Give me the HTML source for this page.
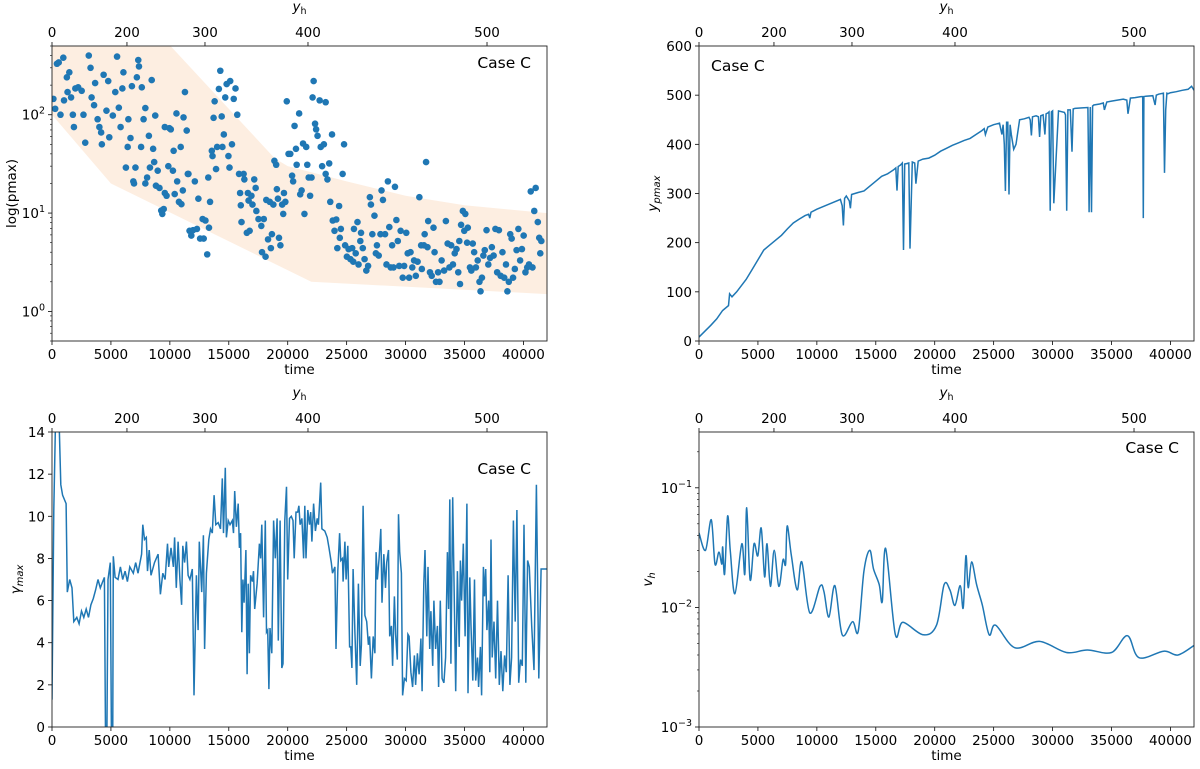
<!DOCTYPE html>
<html><head><meta charset="utf-8"><style>
body{margin:0;background:#fff}
svg{display:block;font-family:"DejaVu Sans","Liberation Sans",sans-serif}
</style></head><body>
<svg id="fig" width="1200" height="769" viewBox="0 0 1200 769" xmlns="http://www.w3.org/2000/svg"></svg>
<script>
// ---------- shared axis data ----------
const timeTicks=[0,5000,10000,15000,20000,25000,30000,35000,40000];
const yhTicks=[0,200,300,400,500];
const yhTickTime=[0,6360,12980,21720,36910];
// ---------- panel 1: log(pmax) scatter ----------
const pTime=[120,270,420,570,720,1020,960,1260,1470,1320,1620,1770,1860,1980,2220,2520,2670,2820,3120,3270,3360,3570,3660,3870,4020,4170,4230,4380,4620,4770,4860,5160,5370,5520,5670,5820,5970,6060,6270,6420,6480,6660,6780,6900,6960,7080,7200,7320,7380,7560,7620,7770,7920,7920,8070,8220,8310,8460,8580,8670,8760,8820,8970,9120,9270,9360,9480,9570,9720,9570,9960,9870,10080,10260,10320,10410,10560,10620,10770,10920,10980,11100,11160,11280,11430,11520,11580,11670,11820,11970,12120,12300,12420,12570,12780,12870,13020,13170,13260,13320,13410,13560,13620,13710,13800,13920,14010,14160,14280,14400,14460,14580,14700,14820,14970,15060,15120,15270,15420,15570,15720,15870,15960,16020,16080,16260,16320,16530,16620,16680,16770,16920,17010,17160,17280,17340,17520,17760,17820,17970,18120,18180,18330,18480,18570,18660,18780,18870,19020,19080,19170,19260,19380,19530,19620,19680,19800,19920,20070,20220,20370,20460,20580,20700,20760,20970,21060,21180,21300,21420,21570,21660,21780,21900,22020,22110,22200,22320,22410,22530,22710,22800,22920,23070,23220,23220,23370,23520,23610,23760,23820,23970,24120,24210,24360,24420,24510,24660,24780,24870,25020,25170,25320,25470,25560,25620,25770,25920,26010,26160,26220,26370,26520,26670,26820,26970,27060,27180,27360,27480,27570,27720,27870,27960,28080,28260,28380,28500,28620,28740,28860,28980,29100,29220,29340,29460,29580,29760,29880,30060,30180,30300,30420,30570,30720,30870,31020,31170,31320,31380,31560,31620,31740,31860,31920,32070,32220,32370,32460,32580,32760,32880,33060,33270,33420,33570,33720,33870,34020,34170,34320,34470,34560,34620,34710,34860,34980,35070,35220,35280,35460,35580,35700,35820,35970,36120,36270,36360,36480,36600,36720,36870,37020,37170,37320,37470,37620,37770,37920,38070,38220,38370,38520,38640,38760,38880,39000,39120,39270,39420,39570,39720,39870,40020,40170,40320,40470,40620,40770,40920,41040,41220,41340,41430,41520];
const pVal=[145,115,330,340,100,140,380,240,270,170,150,100,75,185,190,175,100,52,400,300,150,125,210,90,75,66,50,255,110,220,59,98,170,390,118,75,185,270,29,47,90,58,195,21,20,29,240,360,310,47,190,90,117,20,23,61,29,225,45,33,98,19,27,18,10.6,9.8,11,16,15,75,73,30,71,27,43,15.6,103,21,13,47,12.3,17,94,170,69,25,25,6.6,5.9,6.7,21,6.9,14,5.5,8.7,5.5,8.4,3.8,23,7.1,13,43,38,93,137,28,47,183,280,96,47,63,150,205,38,29,220,50,145,185,100,25,16,12,8.1,25,22,6.3,16,13.4,6.6,15,12.2,22,18,10.5,8.7,7.4,4.0,8.7,3.6,13.6,5.4,13,4.4,6.1,12.2,34,31,17.5,14,5.6,4.7,12.2,9.8,16,13,137,40,40,24,21,77,45,31,103,15.5,17,51,9.8,47,31,23,15,23,150,220,81,71,61,140,47,30,50,134,25,22,32,13,63,8.4,6.6,8.6,4.4,11.8,5.6,6.9,25,50,4.7,3.6,4.3,3.4,4.4,3.2,6.9,3.9,8.1,3.0,5.2,6.3,4.4,3.4,2.6,2.9,14.5,12.2,6.1,9.4,3.9,4.7,3.7,6.1,17,13.6,6.1,3.0,21,7.2,2.8,4.7,2.8,18.5,8.5,5.2,2.9,6.6,2.2,2.9,6.3,3.9,2.2,4.0,2.8,3.3,2.3,3.2,14.5,4.7,2.7,4.7,6.1,33,4.5,8.3,2.5,2.3,7.1,4.0,2.0,2.5,2.0,3.3,2.6,8.3,4.9,2.8,4.7,3.0,3.9,4.3,2.5,5.2,1.9,7.6,10.5,6.6,9.8,5.0,7.1,2.8,2.6,4.9,4.0,2.8,3.3,2.0,1.6,2.2,3.7,4.2,6.7,3.0,3.5,4.5,3.7,6.9,2.5,6.7,2.3,4.0,2.2,3.0,1.6,2.0,6.1,5.5,2.2,2.7,4.2,6.9,3.3,4.3,5.9,2.5,2.8,3.0,16.6,2.8,10.5,18,8.1,5.6,3.9,5.2];
const bandUpperT=[0,10060,18900,20000,25000,30000,35000,42000];
const bandUpperV=[500,500,36,30,21,15,12,10];
const bandLowerT=[0,5000,22000,42000];
const bandLowerV=[100,20,2.0,1.5];
// ---------- panel 2: y_pmax ----------
const ypT=[0,500,1000,1500,2000,2500,2600,2800,3200,4000,4500,5000,5500,6000,6500,7000,7500,8000,8500,9000,9300,9400,9500,10000,11000,12000,12150,12250,12350,12500,12750,12850,12950,13500,14000,14500,15000,15500,16000,16500,16700,16800,16900,17100,17250,17350,17450,17650,17800,17900,18100,18300,18400,18600,19000,19500,20000,20500,21000,21500,22000,22500,23000,23500,24000,24200,24300,24500,25000,25500,25700,25800,25900,26000,26100,26200,26300,26400,26500,26700,26900,27200,27600,28000,28100,28200,28300,28600,28800,28900,29000,29200,29350,29450,29600,29700,29800,29900,30000,30100,30500,31000,31100,31200,31300,31500,31650,31750,31900,32500,33000,33100,33200,33300,33400,33500,34000,34300,34400,34600,35000,35500,36000,36300,36400,36600,37000,37500,37650,37700,37750,37900,38500,38700,38800,39000,39400,39500,39600,39700,39800,40000,40500,41000,41500,41800,42000];
const ypV=[8,20,32,45,62,72,96,90,100,125,145,165,185,195,205,215,228,240,248,255,258,250,262,268,278,288,275,235,290,295,285,270,298,302,305,315,325,335,340,348,352,306,355,358,362,185,360,361,362,188,364,362,320,366,370,372,378,386,392,398,403,408,412,420,428,432,420,435,440,443,420,440,400,305,445,445,298,440,420,390,400,450,452,455,450,418,456,458,456,415,458,460,420,462,464,466,265,466,468,280,468,465,460,265,470,470,385,472,473,474,475,262,476,262,478,480,482,484,470,486,488,490,492,490,462,494,495,497,497,250,497,498,499,480,500,502,504,342,470,504,503,505,507,510,512,518,510];
// ---------- panel 3: gamma_max ----------
const gT=[0,150,300,600,750,900,1200,1300,1500,1700,1850,2100,2300,2500,2700,2900,3100,3300,3500,3700,3900,4100,4300,4450,4550,4650,4750,4950,5050,5150,5200,5350,5600,5800,6000,6200,6400,6600,6900,7100,7300,7600,7700,7850,8000,8100,8250,8400,8700,9000,9200,9400,9600,9800,9900,10100,10300,10400,10550,10700,10850,11000,11100,11250,11400,11550,11700,11900,12050,12250,12400,12500,12700,12850,12950,13100,13300,13450,13600,13750,13900,14100,14300,14450,14550,14700,14800,14950,15100,15300,15400,15500,15650,15800,15900,16000,16100,16200,16300,16450,16550,16650,16750,16850,17000,17100,17200,17400,17600,17700,17800,17950,18100,18200,18300,18400,18500,18650,18800,18950,19100,19200,19350,19500,19600,19750,19900,20000,20150,20300,20450,20550,20700,20850,20950,21050,21200,21350,21450,21550,21700,21850,21950,22050,22200,22350,22500,22600,22800,22900,23150,23350,23500,23700,23800,24000,24100,24250,24400,24500,24650,24700,24850,24950,25100,25250,25350,25450,25550,25700,25850,26000,26150,26250,26400,26550,26700,26850,26950,27100,27250,27400,27500,27600,27750,27900,28000,28150,28300,28400,28550,28650,28800,28900,29050,29150,29300,29400,29500,29650,29750,29900,30050,30200,30300,30450,30600,30750,30850,31000,31150,31300,31400,31550,31650,31800,31900,32050,32150,32300,32400,32550,32700,32800,32950,33100,33250,33400,33550,33650,33750,33850,34000,34150,34250,34400,34550,34650,34750,34900,35050,35200,35300,35450,35550,35700,35850,35950,36100,36200,36350,36450,36600,36700,36800,36900,37050,37150,37250,37350,37500,37650,37800,37950,38100,38250,38400,38550,38700,38850,39000,39150,39300,39450,39600,39750,39900,40050,40200,40350,40500,40700,40900,41100,41300,41500,41800,42000];
const gV=[1.3,10.3,14.5,14.5,11.5,11.0,10.6,6.4,7.0,6.6,5.0,5.2,4.9,5.5,5.2,5.6,5.2,5.8,6.1,6.5,7.0,6.6,6.9,7.1,-1,-1,7.0,7.8,-1,-1,8.1,7.1,7.0,7.6,7.0,7.4,6.9,7.6,7.3,7.8,7.3,8.2,9.6,8.9,9.0,7.4,8.4,7.2,7.8,8.2,6.3,7.3,7.0,8.7,7.6,8.5,7.6,9.0,6.6,8.8,7.0,5.8,8.6,7.8,8.8,7.2,7.0,7.5,1.5,7.2,4.6,8.8,6.4,9.1,3.7,7.3,8.9,9.4,9.2,11.0,9.6,9.7,9.4,11.8,9.2,12.3,9.0,9.8,9.6,9.8,9.2,11.2,9.5,10.6,8.5,9.2,4.5,7.0,5.9,8.4,2.5,6.8,3.5,7.2,6.9,7.4,5.6,6.8,8.7,8.0,9.6,5.2,9.8,4.5,4.6,1.8,4.7,3.5,9.8,8.0,9.9,4.1,9.8,2.8,3.0,9.8,11.4,7.0,9.9,10.0,9.8,8.0,10.2,10.2,10.5,9.6,9.9,8.0,10.5,8.0,10.3,9.6,10.2,8.8,10.6,9.3,9.9,9.6,11.6,9.4,9.3,9.0,8.5,7.8,7.3,7.6,3.7,7.4,9.2,7.9,8.0,6.9,8.8,7.0,8.6,3.8,3.8,2.8,7.5,4.5,2.0,6.8,2.9,3.9,10.5,5.3,5.0,3.9,4.3,2.3,4.3,3.5,8.3,7.0,8.0,9.4,5.9,8.2,6.6,7.8,8.4,4.3,4.8,2.9,6.2,4.4,3.2,10.1,8.3,7.3,1.5,2.3,2.2,4.4,4.3,2.6,1.9,3.4,2.0,3.5,2.5,4.2,1.7,6.8,8.4,4.3,7.6,3.7,5.5,2.9,6.0,3.7,4.8,1.9,6.0,2.3,2.1,3.3,8.3,5.6,10.8,3.0,10.9,5.4,1.7,7.4,3.8,7.9,6.0,8.7,4.3,10.6,1.6,7.1,4.8,2.2,7.0,2.2,3.3,1.9,3.8,1.5,7.6,6.2,7.5,4.6,6.0,2.6,8.9,3.3,5.0,2.3,6.0,2.0,3.6,1.7,3.4,2.6,7.2,2.0,3.3,9.8,5.0,10.3,2.1,3.2,2.9,9.6,2.1,7.9,7.6,4.8,2.7,11.5,2.3,7.5,7.5,7.5];
// ---------- panel 4: v_h ----------
const vT=[0,550,1040,1360,1690,1940,2010,2170,2430,2660,3050,3630,3890,4050,4340,4670,4990,5280,5570,5770,6060,6380,6770,7130,7350,7480,7840,8330,8720,9400,10270,10600,11020,11530,12150,13020,13510,13990,14480,14810,15290,15550,15840,16650,17300,19020,20150,20800,21290,21710,22160,22420,22650,22840,23130,23550,24040,24620,25170,26790,28900,31170,32950,35000,36350,37330,39430,40630,42000];
const vV=[0.042,0.030,0.054,0.023,0.029,0.023,0.032,0.019,0.058,0.029,0.013,0.034,0.019,0.068,0.017,0.034,0.027,0.046,0.018,0.034,0.015,0.030,0.015,0.025,0.023,0.048,0.027,0.014,0.024,0.0090,0.015,0.0136,0.0083,0.0152,0.0059,0.0076,0.0063,0.020,0.030,0.021,0.0155,0.0112,0.031,0.0060,0.0075,0.0059,0.0071,0.0155,0.014,0.0104,0.0152,0.0099,0.027,0.0146,0.024,0.0155,0.0105,0.0059,0.0071,0.0046,0.0052,0.0042,0.0044,0.0042,0.0058,0.0038,0.0043,0.0040,0.0048];

const NS='http://www.w3.org/2000/svg';
const svg=document.getElementById('fig');
function el(tag,attrs,parent){const e=document.createElementNS(NS,tag);for(const k in attrs)e.setAttribute(k,attrs[k]);(parent||svg).appendChild(e);return e;}
const BLUE='#1f77b4';
const XMAX=42000;

function panel(id,L,T,W,H,yscale){
  const g=el('g',{});
  
  
  const cp=el('clipPath',{id:'clip-'+id},g);
  el('rect',{x:L,y:T,width:W,height:H},cp);
  const xs=t=>L+t/XMAX*W;
  const plot=el('g',{'clip-path':'url(#clip-'+id+')'},g);
  
  
  // bottom ticks
  const xt=el('g',{},g);
  
  
  timeTicks.forEach(t=>{
    const x=xs(t);
    el('line',{x1:x,y1:T+H,x2:x,y2:T+H+4,stroke:'#000','stroke-width':0.8},xt);
    const tx=el('text',{x:x,y:T+H+18,'text-anchor':'middle','font-size':13.5},xt);tx.textContent=t;
  });
  const xl=el('text',{x:L+W/2,y:T+H+33,'text-anchor':'middle','font-size':13.5},g);
  xl.textContent='time';
  
  
  // top ticks
  const tt=el('g',{},g);
  
  
  yhTicks.forEach((v,i)=>{
    const x=xs(yhTickTime[i]);
    el('line',{x1:x,y1:T,x2:x,y2:T-4,stroke:'#000','stroke-width':0.8},tt);
    const tx=el('text',{x:x,y:T-9,'text-anchor':'middle','font-size':13.5},tt);tx.textContent=v;
  });
  const tl=el('text',{x:L+W/2,y:T-35,'text-anchor':'middle','font-size':13.5,'font-style':'italic'},g);
  tl.innerHTML='y<tspan font-size="9.5" dy="3" font-style="normal">h</tspan>';
  
  
  return {g,plot,xs,L,T,W,H};
}
function frame(p){el('rect',{x:p.L,y:p.T,width:p.W,height:p.H,fill:'none',stroke:'#222','stroke-width':0.9},p.g);}
function caseLabel(p,x,y,anchor){const c=el('text',{x:x,y:y,'text-anchor':anchor,'font-size':15.5},p.g);c.textContent='Case C';
  
  }
function ylabel(p,x,html){const t=el('text',{x:x,y:p.T+p.H/2,'text-anchor':'middle','font-size':13.5,transform:'rotate(-90 '+x+' '+(p.T+p.H/2)+')'},p.g);t.innerHTML=html;
  
  }
function logAxis(p,lmin,lmax,majors){
  const ys=v=>p.T+p.H-(Math.log10(v)-lmin)/(lmax-lmin)*p.H;
  for(let d=Math.floor(lmin);d<=Math.ceil(lmax);d++){
    for(let m=1;m<10;m++){const v=m*Math.pow(10,d);const lv=Math.log10(v);if(lv<lmin-1e-9||lv>lmax+1e-9)continue;
      const y=ys(v);el('line',{x1:p.L,y1:y,x2:p.L-(m===1?4:2),y2:y,stroke:'#000','stroke-width':m===1?0.8:0.6},p.g);}
  }
  majors.forEach(e=>{const y=ys(Math.pow(10,e));const t=el('text',{x:p.L-7,y:y+5,'text-anchor':'end','font-size':13.5},p.g);
    t.innerHTML='10<tspan font-size="9.5" dy="-6">'+(e<0?'\u2212'+(-e):e)+'</tspan>';});
  return ys;
}
function linAxis(p,min,max,ticks){
  const ys=v=>p.T+p.H-(v-min)/(max-min)*p.H;
  ticks.forEach(v=>{const y=ys(v);el('line',{x1:p.L,y1:y,x2:p.L-4,y2:y,stroke:'#000','stroke-width':0.8},p.g);
    const t=el('text',{x:p.L-7,y:y+5,'text-anchor':'end','font-size':13.5},p.g);t.textContent=v;});
  return ys;
}
function linePath(xs,ys,T,V){return T.map((t,i)=>(i?'L':'M')+xs(t).toFixed(1)+','+ys(V[i]).toFixed(1)).join('');}
function smoothPath(xs,ys,T,V){
  const P=T.map((t,i)=>[xs(t),ys(V[i])]);let d='M'+P[0][0]+','+P[0][1];
  for(let i=0;i<P.length-1;i++){const p0=P[Math.max(0,i-1)],p1=P[i],p2=P[i+1],p3=P[Math.min(P.length-1,i+2)];
    const c1=[p1[0]+(p2[0]-p0[0])/6,p1[1]+(p2[1]-p0[1])/6],c2=[p2[0]-(p3[0]-p1[0])/6,p2[1]-(p3[1]-p1[1])/6];
    d+='C'+c1[0].toFixed(1)+','+c1[1].toFixed(1)+' '+c2[0].toFixed(1)+','+c2[1].toFixed(1)+' '+p2[0].toFixed(1)+','+p2[1].toFixed(1);}
  return d;
}

// Panel 1
const p1=panel('pmax-panel',52,46,495,295);
const y1=logAxis(p1,Math.log10(0.5),Math.log10(500),[0,1,2]);
let band='';bandUpperT.forEach((t,i)=>{band+=(i?'L':'M')+p1.xs(t)+','+y1(bandUpperV[i]);});
for(let i=bandLowerT.length-1;i>=0;i--)band+='L'+p1.xs(bandLowerT[i])+','+y1(bandLowerV[i]);
const bp=el('path',{d:band+'Z',fill:'#fdeee1'},p1.plot);


pTime.forEach((t,i)=>{const c=el('circle',{cx:p1.xs(t),cy:y1(pVal[i]),r:3.3,fill:BLUE},p1.plot);
  
  });
frame(p1);caseLabel(p1,531,68,'end');ylabel(p1,16,'log(pmax)');

// Panel 2
const p2=panel('ypmax-panel',699,46,495,295);
const y2=linAxis(p2,0,600,[0,100,200,300,400,500,600]);
const l2=el('path',{d:linePath(p2.xs,y2,ypT,ypV),fill:'none',stroke:BLUE,'stroke-width':1.5},p2.plot);


frame(p2);caseLabel(p2,711,71,'start');
ylabel(p2,657,'<tspan font-style="italic">y</tspan><tspan font-size="10" dy="3" font-style="italic">pmax</tspan>');

// Panel 3
const p3=panel('gamma-panel',52,432,495,295);
const y3=linAxis(p3,0,14,[0,2,4,6,8,10,12,14]);
const l3=el('path',{d:linePath(p3.xs,y3,gT,gV),fill:'none',stroke:BLUE,'stroke-width':1.5},p3.plot);


frame(p3);caseLabel(p3,531,474,'end');
ylabel(p3,20,'<tspan font-style="italic">γ</tspan><tspan font-size="10" dy="3" font-style="italic">max</tspan>');

// Panel 4
const p4=panel('vh-panel',699,432,495,295);
const y4=logAxis(p4,-3,-1+56/120,[-3,-2,-1]);
const l4=el('path',{d:smoothPath(p4.xs,y4,vT,vV),fill:'none',stroke:BLUE,'stroke-width':1.5},p4.plot);


frame(p4);caseLabel(p4,1179,453,'end');
ylabel(p4,652,'<tspan font-style="italic">v</tspan><tspan font-size="10" dy="3" font-style="italic">h</tspan>');
</script>
</body></html>
